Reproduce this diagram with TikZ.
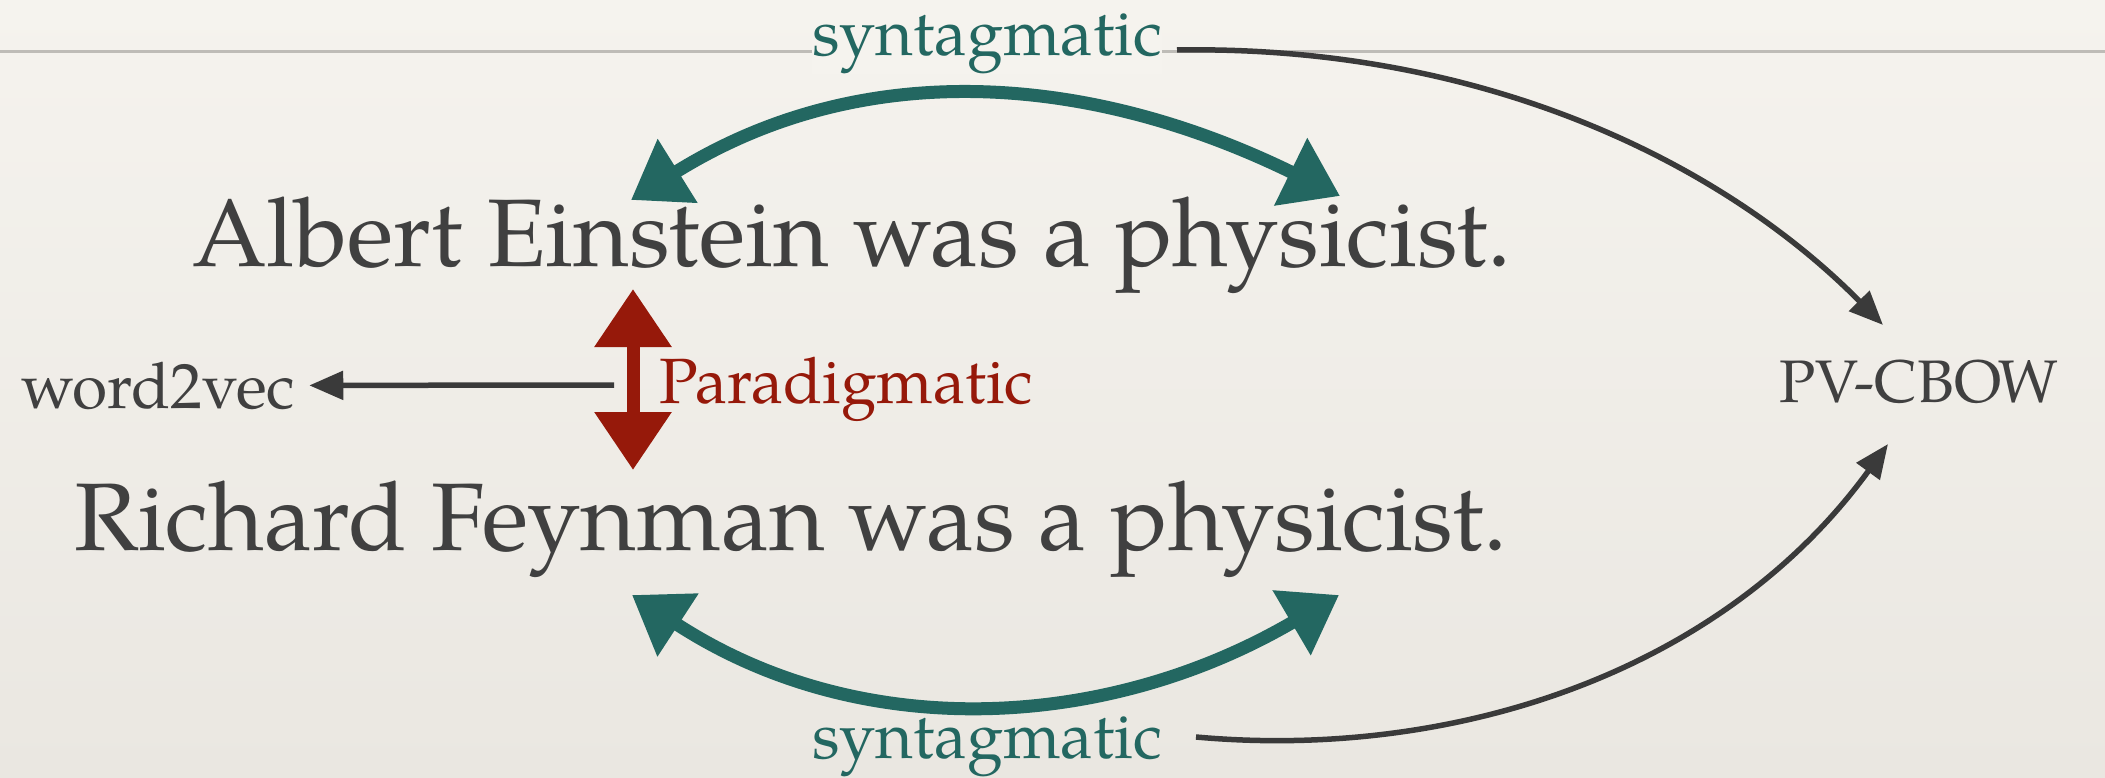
\documentclass[tikz,border=0pt]{standalone}
\usepackage{fontspec}
\setmainfont{TeX Gyre Pagella}
\usetikzlibrary{arrows.meta}
\definecolor{tealc}{HTML}{236761}
\definecolor{redc}{HTML}{96190A}
\definecolor{ink}{HTML}{404040}
\definecolor{arrowc}{HTML}{3A3A3A}
\definecolor{paperA}{HTML}{F5F3EE}
\definecolor{paperB}{HTML}{EAE7E1}
\definecolor{rulec}{HTML}{BEBCB7}
\begin{document}
\begin{tikzpicture}[x=1pt,y=-1pt,
  txt/.style={inner sep=0pt, anchor=base west, text=ink},
  big/.style={txt, font=\fontsize{96}{110}\selectfont},
  mid/.style={txt, font=\fontsize{64}{74}\selectfont},
  syn/.style={txt, text=tealc, font=\fontsize{65}{75}\selectfont},
  chalkteal/.style={draw=tealc, line width=13pt, {Triangle[length=55pt,width=72pt]}-{Triangle[length=55pt,width=72pt]}},
  chalkred/.style={draw=redc, line width=13pt, {Triangle[length=58pt,width=74pt]}-{Triangle[length=58pt,width=74pt]}},
  darrow/.style={draw=arrowc, line width=5.5pt, -{Triangle[length=34pt,width=28pt]}},
  rule/.style={draw=rulec, line width=3pt}]
\fill[top color=paperA, bottom color=paperB] (0,0) rectangle (2105,778);
\useasboundingbox (0,0) rectangle (2105,778);
\draw[rule] (0,52) -- (2105,52);

% texts
\node[syn, fill=paperA] (syntop) at (812,56) {syntagmatic};
\node[syn] (synbot) at (812,758) {syntagmatic};
\node[big] (s1) at (192,266) {Albert Einstein was a physicist.};
\node[big] (s2) at (74,550) {Richard Feynman was a physicist.};
\node[mid, text=redc] (para) at (659,403) {Paradigmatic};
\node[mid] (w2v) at (21,408) {word2vec};
\node[txt, font=\fontsize{60}{70}\selectfont] (pv) at (1779,402) {PV-CBOW};

% coordinates
\coordinate (tl) at (631,200);
\coordinate (tr) at (1340,196);
\coordinate (bl) at (632,595);
\coordinate (br) at (1339,595);
\coordinate (rt) at (633,289);
\coordinate (rb) at (633,470);
\coordinate (wstart) at (614,385);
\coordinate (pvin1) at (1883,325);
\coordinate (pvin2) at (1888,444);
\coordinate (c1s) at (1177,50);
\coordinate (c2s) at (1196,737);

% teal syntagmatic arrows
\draw[chalkteal] (tl) .. controls (862,56) and (1089,73) .. (tr);
\draw[chalkteal] (bl) .. controls (862,745) and (1109,730) .. (br);

% red paradigmatic arrow
\draw[chalkred] (rt) -- (rb);

% word2vec arrow
\draw[darrow] (wstart) -- ([xshift=14pt]w2v.east);

% PV-CBOW curves
\draw[darrow] (c1s) .. controls (1480,45) and (1720,160) .. (pvin1);
\draw[darrow] (c2s) .. controls (1450,760) and (1720,675) .. (pvin2);
\end{tikzpicture}
\end{document}
